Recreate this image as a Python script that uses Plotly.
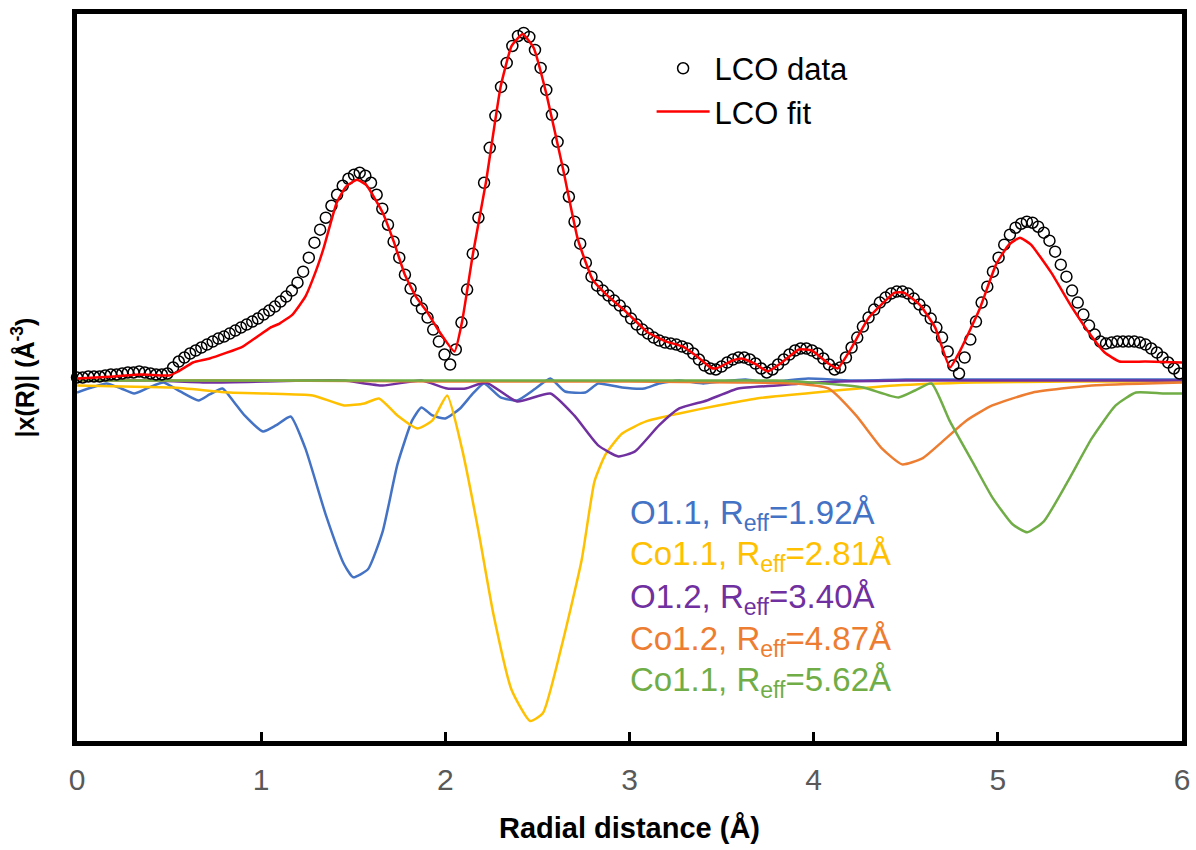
import plotly.graph_objects as go

# ---------------- data (arbitrary |chi(R)| units) ----------------
# measured LCO data, sampled on the EXAFS R grid (step ~0.0307 A)
data_r_step = 0.0307
data_y = [0.02, 0.02, 0.03, 0.03, 0.03, 0.04, 0.05, 0.05, 0.06, 0.07,
          0.07, 0.08, 0.07, 0.06, 0.05, 0.05, 0.06, 0.12, 0.18, 0.22,
          0.26, 0.29, 0.32, 0.35, 0.38, 0.41, 0.43, 0.46, 0.49, 0.52,
          0.55, 0.58, 0.61, 0.65, 0.69, 0.73, 0.78, 0.83, 0.89, 0.97,
          1.08, 1.22, 1.37, 1.50, 1.62, 1.74, 1.85, 1.94, 2.01, 2.05,
          2.07, 2.04, 1.97, 1.85, 1.71, 1.55, 1.38, 1.22, 1.05, 0.91,
          0.79, 0.71, 0.62, 0.50, 0.38, 0.25, 0.15, 0.30, 0.57, 0.90,
          1.26, 1.62, 1.97, 2.32, 2.64, 2.93, 3.17, 3.34, 3.44, 3.47,
          3.43, 3.30, 3.12, 2.90, 2.65, 2.38, 2.10, 1.83, 1.58, 1.36,
          1.17, 1.03, 0.94, 0.89, 0.84, 0.79, 0.74, 0.68, 0.61, 0.55,
          0.50, 0.46, 0.42, 0.39, 0.37, 0.36, 0.35, 0.33, 0.31, 0.26,
          0.20, 0.14, 0.11, 0.10, 0.13, 0.17, 0.20, 0.22, 0.22, 0.20,
          0.16, 0.11, 0.07, 0.10, 0.15, 0.20, 0.25, 0.29, 0.31, 0.31,
          0.29, 0.26, 0.21, 0.15, 0.10, 0.12, 0.22, 0.32, 0.42, 0.53,
          0.62, 0.70, 0.77, 0.82, 0.86, 0.88, 0.88, 0.86, 0.81, 0.75,
          0.69, 0.61, 0.52, 0.42, 0.28, 0.14, 0.06, 0.22, 0.40, 0.58,
          0.77, 0.93, 1.08, 1.22, 1.35, 1.45, 1.52, 1.56, 1.58, 1.57,
          1.53, 1.47, 1.39, 1.28, 1.15, 1.03, 0.89, 0.77, 0.65, 0.54,
          0.45, 0.38, 0.36, 0.37, 0.38, 0.38, 0.38, 0.38, 0.37, 0.35,
          0.31, 0.27, 0.22, 0.17, 0.11, 0.06]
data_r = [round(i * data_r_step, 4) for i in range(len(data_y))]

# LCO fit
fit_r = [0, 0.2, 0.35, 0.5, 0.55, 0.63, 0.72, 0.9, 1.05, 1.10, 1.17, 1.24, 1.30, 1.34, 1.41,
         1.46, 1.52, 1.57, 1.66, 1.72, 1.78, 1.84, 1.90, 1.96, 2.05, 2.09, 2.15, 2.22,
         2.30, 2.36, 2.42, 2.48, 2.55, 2.64, 2.72, 2.80, 2.88, 2.98, 3.10, 3.20, 3.29,
         3.36, 3.44, 3.47, 3.56, 3.61, 3.68, 3.75, 3.82, 3.92, 3.99, 4.08, 4.13, 4.20,
         4.30, 4.44, 4.49, 4.58, 4.66, 4.74, 4.79, 4.90, 4.99, 5.06, 5.12, 5.18, 5.29,
         5.40, 5.51, 5.58, 5.66, 5.80, 6.0]
fit_y = [0.01, 0.03, 0.05, 0.04, 0.08, 0.17, 0.21, 0.33, 0.52, 0.56, 0.65, 0.83, 1.10, 1.32, 1.77,
         1.93, 2.00, 1.95, 1.67, 1.38, 1.05, 0.83, 0.68, 0.50, 0.28, 0.57, 1.26, 1.97,
         2.93, 3.34, 3.46, 3.32, 2.85, 2.10, 1.40, 1.00, 0.84, 0.68, 0.47, 0.38, 0.33,
         0.24, 0.12, 0.11, 0.19, 0.21, 0.16, 0.08, 0.16, 0.30, 0.29, 0.16, 0.11, 0.30,
         0.62, 0.87, 0.87, 0.74, 0.52, 0.12, 0.27, 0.70, 1.15, 1.35, 1.42, 1.35, 1.07,
         0.73, 0.43, 0.27, 0.18, 0.18, 0.17]

# scattering-path contributions (drawn inverted, below zero)
o11_r = [0, 0.08, 0.16, 0.24, 0.31, 0.39, 0.47, 0.56, 0.66, 0.72, 0.79, 0.85, 0.91, 1.01,
         1.08, 1.16, 1.24, 1.35, 1.45, 1.50, 1.58, 1.66, 1.74, 1.82, 1.87, 1.93, 2.0, 2.08,
         2.15, 2.21, 2.30, 2.39, 2.49, 2.57, 2.65, 2.76, 2.83, 2.96, 3.08, 3.16, 3.27, 3.4,
         3.5, 3.63, 3.75, 3.85, 3.97, 4.2, 4.5, 5.0, 5.5, 6.0]
o11_y = [-0.13, -0.08, -0.04, -0.09, -0.14, -0.08, -0.03, -0.12, -0.21, -0.15, -0.09, -0.22,
         -0.36, -0.52, -0.46, -0.37, -0.69, -1.35, -1.85, -1.98, -1.90, -1.52, -0.85, -0.41,
         -0.28, -0.36, -0.39, -0.29, -0.14, -0.04, -0.18, -0.21, -0.09, 0.01, -0.12, -0.13,
         -0.04, -0.08, -0.09, -0.04, -0.01, -0.04, -0.02, 0.0, -0.03, -0.01, 0.01, -0.01,
         0.0, 0.0, 0.0, 0.0]

co11_r = [0, 0.25, 0.52, 0.83, 1.03, 1.28, 1.45, 1.56, 1.64, 1.74, 1.85, 1.93, 2.01, 2.09,
          2.18, 2.26, 2.36, 2.46, 2.53, 2.63, 2.74, 2.81, 2.87, 2.96, 3.09, 3.27, 3.48,
          3.69, 4.01, 4.44, 4.87, 5.4, 6.0]
co11_y = [-0.06, -0.07, -0.08, -0.13, -0.14, -0.16, -0.26, -0.24, -0.19, -0.36, -0.49, -0.41,
          -0.16, -0.69, -1.52, -2.34, -3.11, -3.42, -3.34, -2.68, -1.81, -1.02, -0.75, -0.54,
          -0.42, -0.34, -0.26, -0.19, -0.13, -0.06, -0.03, -0.02, -0.02]

o12_r = [0, 0.41, 0.72, 1.03, 1.24, 1.45, 1.66, 1.87, 2.01, 2.11, 2.22, 2.39, 2.57, 2.70,
         2.83, 2.94, 3.03, 3.16, 3.27, 3.42, 3.59, 3.80, 4.01, 4.5, 5.0, 6.0]
o12_y = [-0.01, -0.01, -0.03, -0.02, -0.01, -0.01, -0.06, -0.01, -0.09, -0.09, -0.03, -0.22,
         -0.14, -0.36, -0.66, -0.77, -0.72, -0.46, -0.29, -0.21, -0.09, -0.06, -0.03, -0.01,
         -0.01, -0.01]

co12_r = [0, 1.0, 2.0, 3.0, 3.6, 3.9, 4.08, 4.23, 4.37, 4.48, 4.59, 4.70, 4.83, 4.97, 5.19,
          5.51, 6.0]
co12_y = [-0.01, -0.01, -0.02, -0.02, -0.03, -0.04, -0.09, -0.36, -0.69, -0.85, -0.79, -0.62,
          -0.41, -0.26, -0.13, -0.06, -0.03]

co11b_r = [0, 1, 2, 3, 3.5, 3.80, 4.06, 4.27, 4.46, 4.55, 4.64, 4.74, 4.87, 4.97, 5.08, 5.16,
           5.25, 5.38, 5.51, 5.64, 5.75, 5.90, 6.0]
co11b_y = [-0.01, -0.01, -0.01, -0.01, -0.01, -0.01, -0.04, -0.08, -0.18, -0.11, -0.04, -0.42,
           -0.85, -1.18, -1.45, -1.53, -1.42, -1.02, -0.59, -0.26, -0.13, -0.14, -0.14]

path_labels = ["O1.1, R<sub>eff</sub>=1.92Å", "Co1.1, R<sub>eff</sub>=2.81Å",
               "O1.2, R<sub>eff</sub>=3.40Å", "Co1.2, R<sub>eff</sub>=4.87Å",
               "Co1.1, R<sub>eff</sub>=5.62Å"]
path_colors = ["#4472C4", "#FFC000", "#7030A0", "#ED7D31", "#70AD47"]
paths = [(o11_r, o11_y), (co11_r, co11_y), (o12_r, o12_y), (co12_r, co12_y), (co11b_r, co11b_y)]

x_ticks = [0, 1, 2, 3, 4, 5, 6]

# ---------------- figure ----------------
fig = go.Figure()
for (r, y), c, lab in zip(paths, path_colors, path_labels):
    fig.add_trace(go.Scatter(x=r, y=y, mode="lines", name=lab, showlegend=False,
                             line=dict(color=c, width=2.5, shape="spline", smoothing=0.5)))

fig.add_trace(go.Scatter(x=data_r, y=data_y, mode="markers", name="LCO data",
                         marker=dict(symbol="circle-open", size=11, color="black",
                                     line=dict(width=1.5, color="black")),
                         cliponaxis=False))
fig.add_trace(go.Scatter(x=fit_r, y=fit_y, mode="lines", name="LCO fit",
                         line=dict(color="#FF0000", width=2.5, shape="spline", smoothing=0.4)))

# path labels, coloured like their curves
label_y = [-1.36, -1.77, -2.2, -2.62, -3.03]
for lab, c, yy in zip(path_labels, path_colors, label_y):
    fig.add_annotation(x=2.99, y=yy, xref="x", yref="y", text=lab, showarrow=False,
                       xanchor="left", yanchor="middle",
                       font=dict(family="Liberation Sans, Arial", size=33, color=c))

axis_common = dict(showline=True, linewidth=5, linecolor="black", mirror=True,
                   showgrid=False, zeroline=False)
fig.update_xaxes(range=[0, 6], tickvals=x_ticks, ticktext=[str(t) for t in x_ticks],
                 ticks="inside", ticklen=9, tickwidth=3, tickcolor="black",
                 tickfont=dict(family="Liberation Sans, Arial", size=30, color="#595959"),
                 ticklabelstandoff=8,
                 title=dict(text="Radial distance (Å)", standoff=24,
                            font=dict(family="Liberation Sans, Arial",
                                      size=29, color="black", weight="bold")),
                 **axis_common)
fig.update_yaxes(range=[-3.62, 3.66], showticklabels=False, ticks="",
                 title=dict(text="|x(R)| (Å<sup>-3</sup>)", standoff=32,
                            font=dict(family="Liberation Sans, Arial", size=25, color="black",
                                      weight="bold")),
                 **axis_common)

fig.update_layout(
    width=1196, height=850,
    margin=dict(l=77, r=14, t=14, b=109, autoexpand=False),
    paper_bgcolor="white", plot_bgcolor="white",
    showlegend=True,
    legend=dict(x=0.52, y=0.962, xanchor="left", yanchor="top",
                bgcolor="rgba(0,0,0,0)", borderwidth=0,
                font=dict(family="Liberation Sans, Arial", size=31, color="black"),
                tracegroupgap=0, itemwidth=53),
)

fig.write_html("out.html")
